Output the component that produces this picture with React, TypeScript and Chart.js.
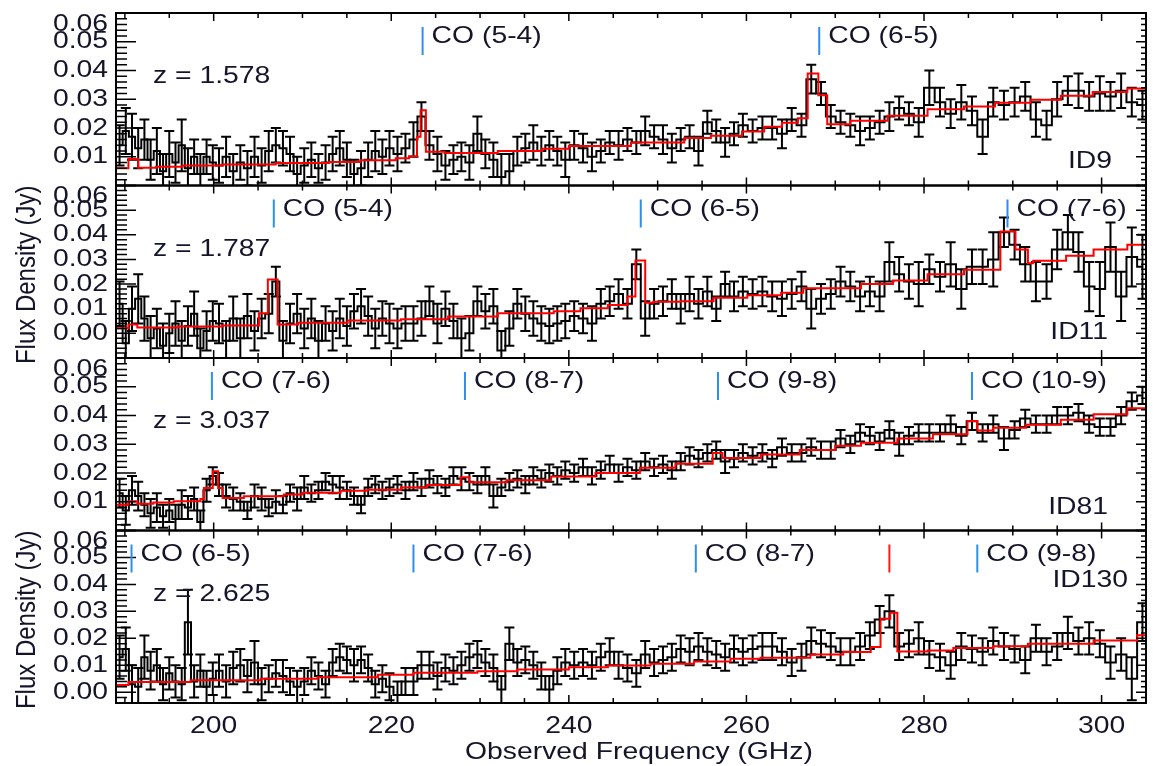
import React, { useEffect, useRef } from 'react';
import { Chart, registerables } from 'chart.js';
Chart.register(...registerables);

// ---------- channel frequencies (GHz) ----------
const freqGHz = [
  189.4, 190.1, 190.8, 191.5, 192.2, 192.9, 193.6, 194.3, 195.0, 195.7, 196.4, 197.1, 197.8, 198.5, 199.2, 199.9,
  200.6, 201.4, 202.2, 203.0, 203.8, 204.6, 205.4, 206.2, 207.0, 207.8, 208.6, 209.4, 210.2, 211.0, 211.8, 212.6, 213.4, 214.2, 215.0, 215.8, 216.6, 217.4, 218.2, 219.0, 219.8,
  220.7, 221.6, 222.5, 223.4, 224.3, 225.2, 226.1, 227.0, 227.9, 228.8, 229.7, 230.6, 231.5, 232.4, 233.3, 234.2, 235.1, 236.0, 236.9, 237.8, 238.7, 239.6,
  240.6, 241.6, 242.6, 243.6, 244.6, 245.6, 246.6, 247.6, 248.6, 249.6, 250.6, 251.6, 252.6, 253.6, 254.6, 255.6, 256.6, 257.6, 258.6, 259.6,
  260.7, 261.8, 262.9, 264.0, 265.1, 266.2, 267.3, 268.4, 269.5, 270.6, 271.7, 272.8, 273.9, 275.0, 276.1, 277.2, 278.3, 279.4,
  280.6, 281.8, 283.0, 284.2, 285.4, 286.6, 287.8, 289.0, 290.2, 291.4, 292.6, 293.8, 295.0, 296.2, 297.4, 298.6, 299.8, 301.0, 302.2, 303.4, 304.6,
];

// ---------- ID9 ----------
const fluxID9 = [
  0.014, 0.019, 0.017, 0.013, 0.016, 0.009, 0.012, 0.005, 0.011, 0.008, 0.014, 0.006, 0.010, 0.004, 0.010, 0.008,
  0.007, 0.010, 0.005, 0.008, 0.006, 0.010, 0.007, 0.012, 0.014, 0.013, 0.011, 0.004, 0.007, 0.009, 0.006, 0.008, 0.011, 0.013, 0.009, 0.004, 0.006, 0.009, 0.012, 0.010, 0.013,
  0.011, 0.013, 0.016, 0.024, 0.014, 0.011, 0.007, 0.009, 0.010, 0.008, 0.018, 0.011, 0.009, 0.003, 0.005, 0.012, 0.013, 0.015, 0.012, 0.014, 0.012, 0.009,
  0.014, 0.013, 0.010, 0.012, 0.015, 0.014, 0.016, 0.015, 0.019, 0.017, 0.016, 0.013, 0.016, 0.017, 0.012, 0.022, 0.019, 0.015, 0.018, 0.021,
  0.019, 0.020, 0.020, 0.018, 0.023, 0.021, 0.037, 0.032, 0.024, 0.022, 0.021, 0.019, 0.020, 0.022, 0.024, 0.027, 0.025, 0.022,
  0.034, 0.029, 0.025, 0.029, 0.026, 0.017, 0.029, 0.028, 0.029, 0.031, 0.023, 0.021, 0.030, 0.033, 0.033, 0.031, 0.032, 0.031, 0.033, 0.029, 0.028,
];
const errID9 = [
  0.007, 0.008, 0.008, 0.007, 0.007, 0.007, 0.008, 0.006, 0.008, 0.007, 0.009, 0.007, 0.006, 0.007, 0.006, 0.006,
  0.006, 0.007, 0.006, 0.006, 0.006, 0.007, 0.006, 0.007, 0.006, 0.006, 0.006, 0.006, 0.006, 0.006, 0.005, 0.006, 0.006, 0.006, 0.006, 0.005, 0.006, 0.006, 0.007, 0.006, 0.006,
  0.006, 0.005, 0.006, 0.005, 0.005, 0.006, 0.005, 0.005, 0.005, 0.006, 0.006, 0.005, 0.006, 0.008, 0.006, 0.005, 0.005, 0.006, 0.005, 0.005, 0.005, 0.006,
  0.005, 0.005, 0.005, 0.004, 0.004, 0.005, 0.004, 0.004, 0.005, 0.004, 0.005, 0.005, 0.004, 0.004, 0.005, 0.004, 0.004, 0.005, 0.004, 0.004,
  0.004, 0.004, 0.004, 0.005, 0.004, 0.004, 0.005, 0.004, 0.004, 0.004, 0.004, 0.005, 0.004, 0.004, 0.005, 0.004, 0.004, 0.005,
  0.006, 0.005, 0.005, 0.006, 0.005, 0.006, 0.005, 0.005, 0.005, 0.005, 0.006, 0.005, 0.006, 0.005, 0.006, 0.005, 0.006, 0.005, 0.006, 0.005, 0.005,
];
const modelFreqID9 = [189.0, 190.4, 191.5, 193.5, 196.5, 201.0, 207.0, 213.0, 216.5, 220.5, 222.0, 222.9, 223.3, 223.9, 226.0, 232.0, 237.0, 240.0, 247.0, 253.0, 256.0, 259.5, 262.0, 264.0, 265.8, 266.9, 268.1, 269.1, 271.7, 275.9, 280.4, 284.5, 288.0, 292.0, 295.4, 299.0, 302.9, 305.0];
const modelFluxID9 = [0.0060, 0.0092, 0.0062, 0.0065, 0.0070, 0.0073, 0.0078, 0.0082, 0.0088, 0.0095, 0.0102, 0.0170, 0.0262, 0.0117, 0.0113, 0.0120, 0.0128, 0.0137, 0.0150, 0.0165, 0.0173, 0.0188, 0.0204, 0.0218, 0.0234, 0.0390, 0.0314, 0.0213, 0.0225, 0.0243, 0.0265, 0.0275, 0.0288, 0.0298, 0.0312, 0.0325, 0.0337, 0.0337];
const lineFreqID9 = [223.53, 268.2];
const lineNameID9 = ['CO (5-4)', 'CO (6-5)'];

// ---------- ID11 ----------
const fluxID11 = [
  0.012, -0.004, 0.010, 0.014, 0.006, -0.002, 0.002, -0.005, 0.000, 0.004, -0.003, 0.003, 0.008, -0.006, 0.001, 0.005,
  0.004, -0.003, 0.006, -0.002, 0.007, 0.001, 0.006, 0.008, 0.021, -0.003, 0.004, 0.008, 0.002, 0.006, -0.003, 0.004, 0.001, 0.006, 0.003, 0.009, 0.011, 0.007, 0.002, 0.006, 0.004,
  0.002, 0.004, 0.004, 0.006, 0.013, 0.004, 0.010, 0.005, -0.002, 0.000, 0.013, 0.009, 0.011, -0.007, 0.002, 0.012, 0.008, 0.006, 0.004, 0.003, 0.004, 0.005,
  0.007, 0.006, 0.004, 0.012, 0.013, 0.016, 0.012, 0.028, 0.006, 0.012, 0.013, 0.016, 0.010, 0.016, 0.012, 0.017, 0.010, 0.020, 0.015, 0.017,
  0.016, 0.017, 0.015, 0.014, 0.016, 0.019, 0.010, 0.014, 0.016, 0.021, 0.019, 0.015, 0.017, 0.015, 0.029, 0.024, 0.021, 0.020,
  0.026, 0.023, 0.028, 0.018, 0.027, 0.027, 0.030, 0.041, 0.036, 0.028, 0.021, 0.021, 0.034, 0.041, 0.033, 0.019, 0.018, 0.035, 0.015, 0.031, 0.027,
];
const errID11 = [
  0.009, 0.009, 0.009, 0.010, 0.009, 0.009, 0.008, 0.009, 0.008, 0.009, 0.008, 0.008, 0.009, 0.008, 0.008, 0.008,
  0.008, 0.008, 0.009, 0.008, 0.009, 0.008, 0.008, 0.008, 0.006, 0.008, 0.008, 0.008, 0.008, 0.008, 0.008, 0.007, 0.008, 0.008, 0.008, 0.007, 0.007, 0.008, 0.008, 0.007, 0.008,
  0.008, 0.007, 0.007, 0.007, 0.006, 0.008, 0.007, 0.007, 0.008, 0.007, 0.006, 0.007, 0.007, 0.008, 0.007, 0.006, 0.007, 0.007, 0.007, 0.007, 0.007, 0.007,
  0.006, 0.006, 0.007, 0.006, 0.006, 0.006, 0.006, 0.006, 0.007, 0.006, 0.006, 0.006, 0.006, 0.007, 0.006, 0.006, 0.005, 0.005, 0.006, 0.006,
  0.006, 0.006, 0.006, 0.007, 0.006, 0.006, 0.008, 0.006, 0.006, 0.006, 0.006, 0.006, 0.006, 0.006, 0.008, 0.007, 0.007, 0.009,
  0.006, 0.006, 0.009, 0.008, 0.007, 0.007, 0.011, 0.006, 0.006, 0.007, 0.008, 0.007, 0.008, 0.007, 0.008, 0.010, 0.011, 0.010, 0.010, 0.012, 0.013,
];
const modelFreqID11 = [189.0, 190.4, 191.4, 196.0, 201.0, 205.1, 206.1, 207.2, 209.5, 215.1, 221.1, 226.4, 232.0, 238.3, 241.3, 244.4, 246.6, 247.5, 248.6, 249.5, 252.6, 256.3, 260.1, 263.9, 266.4, 272.9, 276.5, 280.4, 284.5, 288.6, 290.3, 291.7, 292.3, 296.0, 299.1, 302.9, 305.0];
const modelFluxID11 = [0.0021, 0.0036, 0.0024, 0.0028, 0.0032, 0.0082, 0.0219, 0.0036, 0.0043, 0.0052, 0.0057, 0.0068, 0.0082, 0.0090, 0.0102, 0.0115, 0.0150, 0.0296, 0.0124, 0.0128, 0.0130, 0.0145, 0.0155, 0.0165, 0.0183, 0.0200, 0.0215, 0.0240, 0.0258, 0.0413, 0.0340, 0.0285, 0.0295, 0.0315, 0.0340, 0.0360, 0.0360];
const lineFreqID11 = [206.77, 248.1, 289.4];
const lineNameID11 = ['CO (5-4)', 'CO (6-5)', 'CO (7-6)'];

// ---------- ID81 ----------
const fluxID81 = [
  0.013, 0.007, 0.014, 0.012, 0.009, 0.006, 0.008, 0.005, 0.007, 0.004, 0.009, 0.008, 0.011, 0.003, 0.014, 0.019,
  0.016, 0.012, 0.011, 0.010, 0.007, 0.012, 0.011, 0.008, 0.010, 0.009, 0.013, 0.011, 0.015, 0.013, 0.014, 0.017, 0.016, 0.015, 0.014, 0.012, 0.009, 0.015, 0.016, 0.014, 0.015,
  0.016, 0.014, 0.017, 0.015, 0.018, 0.016, 0.015, 0.019, 0.018, 0.017, 0.016, 0.019, 0.012, 0.015, 0.017, 0.018, 0.016, 0.019, 0.018, 0.020, 0.019, 0.021,
  0.020, 0.022, 0.019, 0.021, 0.023, 0.020, 0.022, 0.021, 0.024, 0.022, 0.023, 0.021, 0.024, 0.026, 0.025, 0.027, 0.028, 0.024, 0.025, 0.027,
  0.026, 0.027, 0.025, 0.029, 0.027, 0.027, 0.029, 0.028, 0.028, 0.032, 0.030, 0.034, 0.033, 0.031, 0.035, 0.030, 0.033, 0.034,
  0.034, 0.034, 0.037, 0.033, 0.038, 0.034, 0.037, 0.032, 0.035, 0.039, 0.037, 0.037, 0.040, 0.040, 0.041, 0.037, 0.036, 0.036, 0.040, 0.045, 0.047,
];
const errID81 = [
  0.005, 0.005, 0.005, 0.005, 0.004, 0.005, 0.005, 0.004, 0.004, 0.005, 0.005, 0.004, 0.004, 0.004, 0.004, 0.003,
  0.004, 0.004, 0.004, 0.003, 0.003, 0.004, 0.004, 0.003, 0.004, 0.003, 0.003, 0.004, 0.004, 0.003, 0.003, 0.003, 0.003, 0.004, 0.003, 0.003, 0.003, 0.003, 0.003, 0.003, 0.003,
  0.003, 0.003, 0.003, 0.003, 0.003, 0.003, 0.003, 0.003, 0.004, 0.003, 0.003, 0.003, 0.004, 0.003, 0.003, 0.003, 0.003, 0.003, 0.003, 0.003, 0.003, 0.003,
  0.003, 0.003, 0.003, 0.003, 0.003, 0.003, 0.003, 0.003, 0.003, 0.003, 0.003, 0.003, 0.003, 0.003, 0.003, 0.003, 0.003, 0.004, 0.003, 0.003,
  0.003, 0.003, 0.003, 0.003, 0.003, 0.003, 0.003, 0.003, 0.003, 0.003, 0.003, 0.003, 0.003, 0.003, 0.003, 0.004, 0.003, 0.003,
  0.003, 0.003, 0.003, 0.003, 0.003, 0.003, 0.003, 0.004, 0.003, 0.003, 0.003, 0.003, 0.003, 0.003, 0.003, 0.003, 0.003, 0.003, 0.003, 0.003, 0.003,
];
const modelFreqID81 = [189.0, 190.4, 191.4, 193.2, 195.5, 198.5, 198.9, 199.9, 200.5, 201.0, 203.4, 207.9, 210.0, 214.3, 217.3, 221.1, 224.0, 227.8, 228.8, 233.0, 238.0, 243.0, 248.0, 252.0, 256.2, 257.3, 261.6, 266.0, 270.0, 272.9, 277.0, 281.0, 284.9, 286.0, 287.8, 291.5, 295.4, 299.1, 302.9, 305.0];
const modelFluxID81 = [0.0090, 0.0102, 0.0093, 0.0097, 0.0102, 0.0110, 0.0148, 0.0206, 0.0148, 0.0113, 0.0119, 0.0125, 0.0131, 0.0138, 0.0142, 0.0150, 0.0158, 0.0185, 0.0168, 0.0175, 0.0188, 0.0200, 0.0218, 0.0232, 0.0270, 0.0252, 0.0264, 0.0280, 0.0295, 0.0305, 0.0320, 0.0335, 0.0381, 0.0348, 0.0357, 0.0368, 0.0385, 0.0404, 0.0425, 0.0425];
const lineFreqID81 = [199.8, 228.3, 256.8, 285.4];
const lineNameID81 = ['CO (7-6)', 'CO (8-7)', 'CO (9-8)', 'CO (10-9)'];

// ---------- ID130 ----------
const fluxID130 = [
  0.013, 0.016, 0.003, 0.002, 0.013, 0.008, 0.010, 0.003, 0.007, 0.004, 0.003, 0.026, 0.004, 0.008, 0.002, 0.005,
  0.008, 0.004, 0.009, 0.010, 0.006, 0.011, 0.003, 0.005, 0.007, 0.006, 0.004, 0.002, 0.004, 0.008, 0.006, 0.003, 0.011, 0.013, 0.012, 0.010, 0.012, 0.009, 0.003, 0.005, 0.002,
  -0.001, 0.004, 0.004, 0.010, 0.010, 0.006, 0.009, 0.008, 0.010, 0.013, 0.014, 0.011, 0.009, 0.001, 0.018, 0.011, 0.012, 0.010, 0.006, 0.001, 0.008, 0.011,
  0.010, 0.011, 0.010, 0.013, 0.015, 0.010, 0.009, 0.007, 0.014, 0.011, 0.012, 0.013, 0.016, 0.015, 0.017, 0.015, 0.014, 0.013, 0.016, 0.015,
  0.016, 0.017, 0.017, 0.015, 0.011, 0.013, 0.019, 0.018, 0.017, 0.015, 0.015, 0.017, 0.021, 0.027, 0.030, 0.017, 0.018, 0.020,
  0.014, 0.013, 0.010, 0.017, 0.016, 0.015, 0.019, 0.017, 0.016, 0.012, 0.020, 0.015, 0.017, 0.022, 0.019, 0.020, 0.018, 0.011, 0.014, 0.005, 0.026,
];
const errID130 = [
  0.008, 0.008, 0.007, 0.007, 0.008, 0.007, 0.006, 0.006, 0.006, 0.006, 0.006, 0.012, 0.006, 0.006, 0.006, 0.006,
  0.006, 0.006, 0.006, 0.006, 0.006, 0.008, 0.006, 0.005, 0.005, 0.006, 0.005, 0.006, 0.005, 0.005, 0.005, 0.005, 0.005, 0.005, 0.005, 0.006, 0.005, 0.005, 0.005, 0.005, 0.005,
  0.005, 0.005, 0.005, 0.005, 0.005, 0.005, 0.005, 0.005, 0.005, 0.005, 0.005, 0.005, 0.005, 0.005, 0.006, 0.005, 0.005, 0.005, 0.005, 0.005, 0.005, 0.005,
  0.005, 0.005, 0.005, 0.005, 0.005, 0.005, 0.005, 0.005, 0.005, 0.005, 0.005, 0.005, 0.005, 0.005, 0.005, 0.005, 0.005, 0.005, 0.005, 0.005,
  0.005, 0.005, 0.005, 0.005, 0.005, 0.005, 0.005, 0.005, 0.005, 0.005, 0.005, 0.005, 0.005, 0.005, 0.006, 0.005, 0.005, 0.006,
  0.005, 0.005, 0.005, 0.005, 0.005, 0.005, 0.005, 0.005, 0.005, 0.005, 0.005, 0.005, 0.005, 0.006, 0.005, 0.006, 0.005, 0.006, 0.006, 0.008, 0.007,
];
const modelFreqID130 = [189.0, 190.4, 197.4, 205.3, 211.7, 218.5, 222.5, 229.7, 234.2, 240.0, 244.4, 249.2, 254.1, 258.2, 261.6, 267.2, 270.9, 274.0, 275.1, 276.2, 277.0, 280.4, 283.3, 287.8, 291.7, 299.1, 304.0, 305.0];
const modelFluxID130 = [0.0027, 0.0038, 0.0044, 0.0050, 0.0056, 0.0065, 0.0072, 0.0078, 0.0084, 0.0093, 0.0099, 0.0106, 0.0114, 0.0124, 0.0128, 0.0140, 0.0149, 0.0168, 0.0273, 0.0295, 0.0151, 0.0155, 0.0164, 0.0171, 0.0180, 0.0192, 0.0211, 0.0211];
const lineFreqID130 = [190.75, 222.5, 254.3, 286.0];
const lineNameID130 = ['CO (6-5)', 'CO (7-6)', 'CO (8-7)', 'CO (9-8)'];
const unknownLineID130 = [276.1];

// ---------- axes ----------
const xMin = 189;
const xMax = 305;
const xTickLabels = [200, 220, 240, 260, 280, 300];
const yMin = [0, -0.01, 0, -0.004];
const yMax = [0.06, 0.06, 0.06, 0.06];
const yTickLabels = [
  ['0.01', '0.02', '0.03', '0.04', '0.05', '0.06'],
  ['0.00', '0.01', '0.02', '0.03', '0.04', '0.05', '0.06'],
  ['0.01', '0.02', '0.03', '0.04', '0.05', '0.06'],
  ['0.00', '0.01', '0.02', '0.03', '0.04', '0.05', '0.06'],
];
const sourceNames = ['ID9', 'ID11', 'ID81', 'ID130'];
const redshifts = ['z = 1.578', 'z = 1.787', 'z = 3.037', 'z = 2.625'];

const panels = [
  { flux: fluxID9, err: errID9, mf: modelFreqID9, mv: modelFluxID9, lines: lineFreqID9, names: lineNameID9, extra: [] as number[], idRight: 1112, idBase: 155 },
  { flux: fluxID11, err: errID11, mf: modelFreqID11, mv: modelFluxID11, lines: lineFreqID11, names: lineNameID11, extra: [] as number[], idRight: 1108, idBase: 153 },
  { flux: fluxID81, err: errID81, mf: modelFreqID81, mv: modelFluxID81, lines: lineFreqID81, names: lineNameID81, extra: [] as number[], idRight: 1108, idBase: 156 },
  { flux: fluxID130, err: errID130, mf: modelFreqID130, mv: modelFluxID130, lines: lineFreqID130, names: lineNameID130, extra: unknownLineID130, idRight: 1128, idBase: 56 },
];

const FONT = '24px "Liberation Sans", Arial, sans-serif';
const SX = 1.18;
const TEXT = '#15152a';

function stretchText(ctx: CanvasRenderingContext2D, s: string, x: number, y: number, align: CanvasTextAlign, base: CanvasTextBaseline) {
  ctx.save();
  ctx.translate(x, y);
  ctx.scale(SX, 1);
  ctx.font = FONT;
  ctx.fillStyle = TEXT;
  ctx.textAlign = align;
  ctx.textBaseline = base;
  ctx.fillText(s, 0, 0);
  ctx.restore();
}

const overlayPlugin = {
  id: 'overlay',
  beforeDatasetDraw(chart: any, args: any) {
    const { xScale, yScale } = args.meta;
    const ctx = chart.ctx;
    ctx.save();
    ctx.beginPath();
    ctx.rect(xScale.left, yScale.top, xScale.right - xScale.left, yScale.bottom - yScale.top);
    ctx.clip();
  },
  afterDatasetDraw(chart: any, args: any) {
    const ds = chart.data.datasets[args.index];
    const ctx = chart.ctx;
    if (ds.errors) {
      const xs = args.meta.xScale;
      const ys = args.meta.yScale;
      ctx.strokeStyle = '#000';
      ctx.lineWidth = 2;
      ctx.beginPath();
      ds.data.forEach((p: any, i: number) => {
        const e = ds.errors[i];
        const px = xs.getPixelForValue(p.x);
        const y1 = ys.getPixelForValue(p.y - e);
        const y2 = ys.getPixelForValue(p.y + e);
        ctx.moveTo(px, y1); ctx.lineTo(px, y2);
        ctx.moveTo(px - 5, y1); ctx.lineTo(px + 5, y1);
        ctx.moveTo(px - 5, y2); ctx.lineTo(px + 5, y2);
      });
      ctx.stroke();
    }
    ctx.restore();
  },
  afterDraw(chart: any) {
    const ctx: CanvasRenderingContext2D = chart.ctx;
    const xs = chart.scales.x;
    const L = xs.left, R = xs.right;
    panels.forEach((p, k) => {
      const ys = chart.scales['y' + k];
      const T = ys.top, B = ys.bottom;
      ctx.save();
      ctx.strokeStyle = '#000';
      // x ticks
      ctx.lineWidth = 1.5;
      ctx.beginPath();
      for (let f = 190; f <= xMax; f += 5) {
        const px = xs.getPixelForValue(f);
        const len = f % 20 === 0 ? 8 : 5;
        ctx.moveTo(px, T); ctx.lineTo(px, T + len);
        ctx.moveTo(px, B); ctx.lineTo(px, B - len);
      }
      // y ticks
      const kmin = Math.ceil(yMin[k] / 0.002 - 1e-6);
      const kmax = Math.floor(yMax[k] / 0.002 + 1e-6);
      for (let j = kmin; j <= kmax; j++) {
        const py = ys.getPixelForValue(j * 0.002);
        const major = j % 5 === 0;
        ctx.moveTo(L, py); ctx.lineTo(L + (major ? 20 : 11), py);
        ctx.moveTo(R, py); ctx.lineTo(R - (major ? 10 : 5), py);
      }
      ctx.stroke();
      // frame
      ctx.lineWidth = 2;
      ctx.strokeRect(L, T, R - L, B - T);
      // y labels
      yTickLabels[k].forEach((s) => {
        const v = parseFloat(s);
        if (Math.abs(v - yMax[k]) < 1e-9) stretchText(ctx, s, 108, T - 1, 'right', 'top');
        else stretchText(ctx, s, 108, ys.getPixelForValue(v), 'right', 'middle');
      });
      // line markers
      ctx.lineWidth = 2;
      p.lines.forEach((f, i) => {
        const px = xs.getPixelForValue(f);
        ctx.strokeStyle = '#2b8ff0';
        ctx.beginPath(); ctx.moveTo(px, T + 14); ctx.lineTo(px, T + 42); ctx.stroke();
        stretchText(ctx, p.names[i], px + 9, T + 30, 'left', 'alphabetic');
      });
      p.extra.forEach((f) => {
        const px = xs.getPixelForValue(f);
        ctx.strokeStyle = '#ff1a1a';
        ctx.beginPath(); ctx.moveTo(px, T + 14); ctx.lineTo(px, T + 42); ctx.stroke();
      });
      stretchText(ctx, redshifts[k], 153, T + 70, 'left', 'alphabetic');
      stretchText(ctx, sourceNames[k], p.idRight, T + p.idBase, 'right', 'alphabetic');
      ctx.restore();
    });
    // x labels
    const bottom = chart.scales.y3.bottom;
    xTickLabels.forEach((v) => {
      stretchText(ctx, String(v), xs.getPixelForValue(v), bottom + 30, 'center', 'alphabetic');
    });
    stretchText(ctx, 'Observed Frequency (GHz)', 639, bottom + 56, 'center', 'alphabetic');
    // y titles
    [chart.scales.y1, chart.scales.y3].forEach((ys: any) => {
      ctx.save();
      ctx.translate(27, (ys.top + ys.bottom) / 2 + 3);
      ctx.scale(SX, 1);
      ctx.rotate(-Math.PI / 2);
      ctx.font = FONT;
      ctx.fillStyle = TEXT;
      ctx.textAlign = 'center';
      ctx.textBaseline = 'middle';
      ctx.fillText('Flux Density (Jy)', 0, 0);
      ctx.restore();
    });
  },
};

export default function App() {
  const ref = useRef<HTMLCanvasElement | null>(null);
  useEffect(() => {
    if (!ref.current) return;
    const datasets: any[] = [];
    const scales: any = {
      x: { type: 'linear', min: xMin, max: xMax, display: false },
    };
    panels.forEach((p, k) => {
      scales['y' + k] = {
        type: 'linear', min: yMin[k], max: yMax[k], display: false,
        position: 'left', stack: 'panels', stackWeight: 1, weight: 4 - k,
      };
      datasets.push({
        label: sourceNames[k],
        data: freqGHz.map((f, i) => ({ x: f, y: p.flux[i] })),
        errors: p.err,
        xAxisID: 'x', yAxisID: 'y' + k,
        borderColor: '#000', borderWidth: 2, pointRadius: 0,
        stepped: 'middle', fill: false, order: 1,
      });
      datasets.push({
        label: sourceNames[k] + ' model',
        data: p.mf.map((f, i) => ({ x: f, y: p.mv[i] })),
        xAxisID: 'x', yAxisID: 'y' + k,
        borderColor: '#ff0000', borderWidth: 2, pointRadius: 0,
        stepped: 'before', fill: false, order: 0,
      });
    });
    const chart = new Chart(ref.current, {
      type: 'line',
      data: { datasets },
      options: {
        responsive: false,
        animation: false,
        devicePixelRatio: 1,
        events: [],
        layout: { padding: { left: 116, right: 7, top: 13, bottom: 63 } },
        scales,
        plugins: { legend: { display: false }, tooltip: { enabled: false } },
      } as any,
      plugins: [overlayPlugin as any],
    });
    return () => chart.destroy();
  }, []);
  return (
    <div style={{ position: 'fixed', left: 0, top: 0, width: 1153, height: 766, background: '#fff' }}>
      <canvas ref={ref} width={1153} height={766} style={{ display: 'block' }} />
    </div>
  );
}
